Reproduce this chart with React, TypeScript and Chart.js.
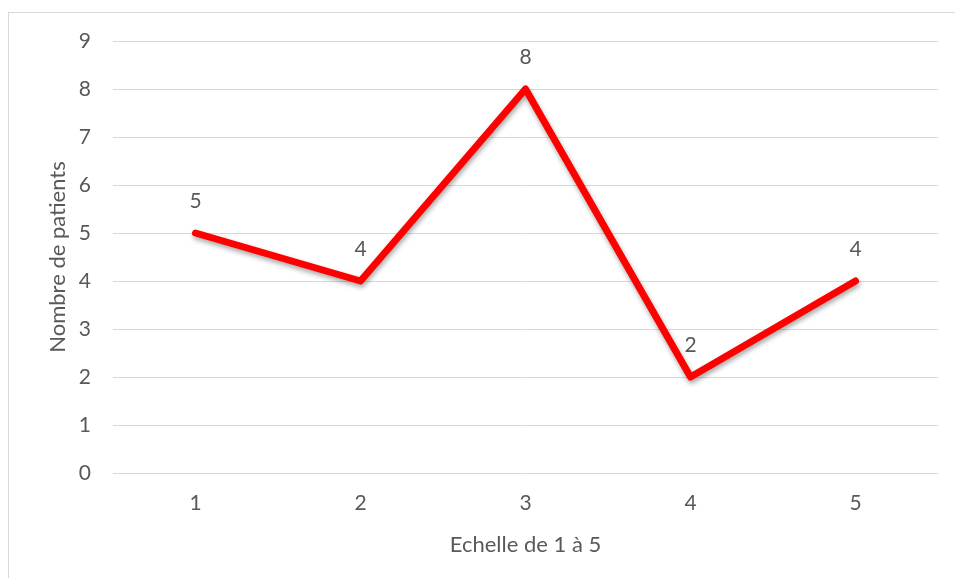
import React, { useEffect, useRef } from "react";
import { Chart, registerables } from "chart.js";

Chart.register(...registerables);

const categories = ["1", "2", "3", "4", "5"];
const patients = [5, 4, 8, 2, 4];
const yTicks = [0, 1, 2, 3, 4, 5, 6, 7, 8, 9];

const TEXT = "#595959";
const FONT = "Lato, 'Open Sans', sans-serif";

const labelPlugin = {
  id: "pointLabels",
  afterDatasetsDraw(chart: any) {
    const { ctx } = chart;
    const meta = chart.getDatasetMeta(0);
    ctx.save();
    ctx.fillStyle = TEXT;
    ctx.font = `21px ${FONT}`;
    ctx.textAlign = "center";
    ctx.textBaseline = "middle";
    meta.data.forEach((pt: any, i: number) => {
      ctx.fillText(String(patients[i]), pt.x, pt.y - 32);
    });
    ctx.restore();
  },
};

const shadowPlugin = {
  id: "lineShadow",
  beforeDatasetDraw(chart: any) {
    const { ctx } = chart;
    ctx.save();
    ctx.shadowColor = "rgba(0,0,0,0.35)";
    ctx.shadowBlur = 5;
    ctx.shadowOffsetX = 1;
    ctx.shadowOffsetY = 3;
  },
  afterDatasetDraw(chart: any) {
    chart.ctx.restore();
  },
};

export default function App() {
  const ref = useRef<HTMLCanvasElement>(null);
  useEffect(() => {
    const chart = new Chart(ref.current!, {
      type: "line",
      data: {
        labels: categories,
        datasets: [
          {
            data: patients,
            borderColor: "#ff0000",
            borderWidth: 7,
            borderCapStyle: "round",
            borderJoinStyle: "round",
            pointRadius: 0,
            tension: 0,
          },
        ],
      },
      options: {
        animation: false,
        responsive: false,
        layout: { padding: { top: 28, right: 17, left: 0, bottom: 0 } },
        plugins: { legend: { display: false }, tooltip: { enabled: false } },
        scales: {
          x: {
            offset: true,
            grid: { display: false },
            border: { display: false },
            ticks: { color: TEXT, font: { family: FONT, size: 21 }, padding: 10 },
            title: {
              display: true,
              text: "Echelle de 1 à 5",
              color: TEXT,
              font: { family: FONT, size: 22 },
              padding: { top: 0, bottom: 21 },
            },
            afterFit(scale: any) {
              scale.height = 106;
              scale.paddingLeft = 0;
              scale.paddingRight = 0;
            },
          },
          y: {
            min: 0,
            max: 9,
            afterBuildTicks(scale: any) {
              scale.ticks = yTicks.map((v) => ({ value: v }));
            },
            grid: { color: "#d9d9d9", lineWidth: 1, drawTicks: false },
            border: { display: false },
            ticks: { color: TEXT, font: { family: FONT, size: 21 }, padding: 22 },
            title: {
              display: true,
              text: "Nombre de patients",
              color: TEXT,
              font: { family: FONT, size: 22 },
              padding: { top: 36, bottom: 0 },
            },
            afterFit(scale: any) {
              scale.width = 104;
              scale.paddingTop = 0;
              scale.paddingBottom = 0;
            },
          },
        },
      },
      plugins: [shadowPlugin, labelPlugin],
    });
    return () => chart.destroy();
  }, []);

  return (
    <div
      style={{
        position: "fixed",
        left: 8,
        top: 12,
        width: 960,
        height: 580,
        border: "1px solid #d9d9d9",
        background: "#fff",
      }}
    >
      <canvas ref={ref} width={946} height={566} style={{ display: "block" }} />
    </div>
  );
}
